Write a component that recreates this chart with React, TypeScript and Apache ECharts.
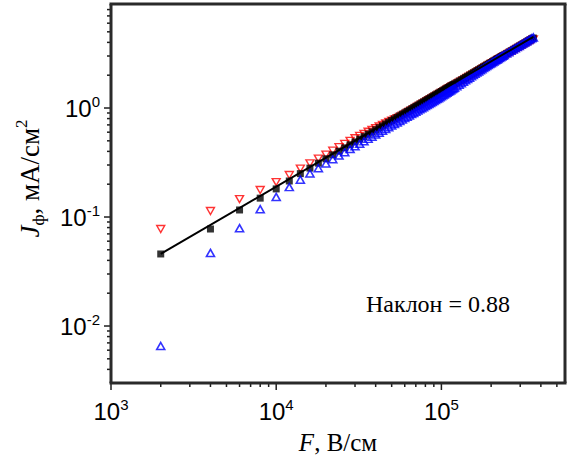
import React, { useEffect, useRef } from "react";
import * as echarts from "echarts";

// Field strength F, V/cm
const fieldF = [
  2000, 4000, 6000, 8000, 10000, 12000, 14000, 16000, 18000, 20000,
  22000, 24000, 26000, 28000, 30000, 32000, 34000, 36000, 38000, 40000,
  42000, 44000, 46000, 48000, 50000, 52000, 54000, 56000, 58000, 60000,
  62000, 64000, 66000, 68000, 70000, 72000, 74000, 76000, 78000, 80000,
  82000, 84000, 86000, 88000, 90000, 92000, 94000, 96000, 98000, 100000,
  102000, 104000, 106000, 108000, 110000, 112000, 114000, 116000, 118000, 120000,
  124000, 128000, 132000, 136000, 140000, 144000, 148000, 152000, 156000, 160000,
  164000, 168000, 172000, 176000, 180000, 184000, 188000, 192000, 196000, 200000,
  204000, 208000, 212000, 216000, 220000, 224000, 228000, 232000, 236000, 240000,
  248000, 256000, 264000, 272000, 280000, 288000, 296000, 304000, 312000, 320000,
  328000, 336000, 344000, 352000, 360000,
];

// Black filled squares
const jBlack = [
  0.0458, 0.0776, 0.116, 0.149, 0.181, 0.214,
  0.25, 0.281, 0.312, 0.342,
  0.372, 0.402, 0.431, 0.46, 0.489, 0.518, 0.546, 0.575, 0.603, 0.631,
  0.659, 0.686, 0.714, 0.741, 0.768, 0.795, 0.822, 0.849, 0.876, 0.902,
  0.929, 0.955, 0.981, 1.008, 1.034, 1.06, 1.086, 1.112, 1.137, 1.163,
  1.189, 1.214, 1.24, 1.265, 1.291, 1.316, 1.341, 1.366, 1.392, 1.417,
  1.441, 1.466, 1.491, 1.516, 1.541, 1.565, 1.59, 1.614, 1.639, 1.664,
  1.713, 1.762, 1.81, 1.858, 1.906, 1.954, 2.002, 2.05, 2.098, 2.145,
  2.193, 2.24, 2.287, 2.333, 2.38, 2.427, 2.474, 2.52, 2.566, 2.612,
  2.658, 2.704, 2.75, 2.796, 2.842, 2.887, 2.932, 2.978, 3.023, 3.068,
  3.158, 3.248, 3.338, 3.427, 3.516, 3.604, 3.692, 3.78, 3.868, 3.955,
  4.043, 4.13, 4.217, 4.303, 4.389,
];

// Red open down-triangles
const jRed = [
  0.0776, 0.1135, 0.146, 0.177, 0.209, 0.243,
  0.278, 0.311, 0.343, 0.374,
  0.406, 0.437, 0.468, 0.499, 0.528, 0.554, 0.58, 0.606, 0.63, 0.654,
  0.677, 0.699, 0.722, 0.744, 0.766, 0.787, 0.806, 0.828, 0.85, 0.875,
  0.901, 0.926, 0.952, 0.978, 1.003, 1.028, 1.053, 1.079, 1.103, 1.128,
  1.153, 1.178, 1.203, 1.227, 1.252, 1.277, 1.301, 1.325, 1.35, 1.374,
  1.398, 1.422, 1.446, 1.471, 1.495, 1.518, 1.542, 1.566, 1.59, 1.614,
  1.662, 1.709, 1.756, 1.802, 1.849, 1.895, 1.942, 1.989, 2.035, 2.081,
  2.127, 2.173, 2.218, 2.263, 2.309, 2.354, 2.4, 2.444, 2.489, 2.534,
  2.578, 2.623, 2.668, 2.712, 2.757, 2.8, 2.844, 2.889, 2.932, 2.976,
  3.063, 3.151, 3.238, 3.324, 3.411, 3.496, 3.581, 3.667, 3.752, 3.836,
  3.922, 4.006, 4.09, 4.174, 4.257,
];

// Blue open up-triangles
const jBlue = [
  0.00656, 0.0468, 0.079, 0.118, 0.153, 0.188,
  0.22, 0.251, 0.28, 0.31,
  0.339, 0.366, 0.393, 0.42, 0.445, 0.47, 0.495, 0.521, 0.545, 0.57,
  0.594, 0.619, 0.642, 0.666, 0.691, 0.713, 0.738, 0.762, 0.786, 0.81,
  0.832, 0.855, 0.879, 0.902, 0.926, 0.949, 0.972, 0.995, 1.018, 1.041,
  1.064, 1.09, 1.113, 1.136, 1.161, 1.184, 1.209, 1.232, 1.257, 1.283,
  1.306, 1.331, 1.357, 1.382, 1.407, 1.431, 1.457, 1.483, 1.507, 1.531,
  1.584, 1.636, 1.689, 1.742, 1.793, 1.849, 1.899, 1.953, 2.008, 2.06,
  2.113, 2.166, 2.22, 2.273, 2.325, 2.377, 2.428, 2.479, 2.529, 2.579,
  2.628, 2.676, 2.725, 2.773, 2.822, 2.871, 2.919, 2.971, 3.02, 3.068,
  3.162, 3.256, 3.35, 3.441, 3.532, 3.624, 3.715, 3.807, 3.899, 3.993,
  4.084, 4.176, 4.266, 4.355, 4.444,
];

// Power-law fit line (slope 0.88)
const fitF = [2000, 360000];
const fitJ = [0.0458, 4.5];

const X_MIN = 1000;
const X_MAX = 560000;
const Y_MIN = 0.003;
const Y_MAX = 9;
const xMajorTicks = [1e3, 1e4, 1e5];
const yMajorTicks = [1e-2, 1e-1, 1e0];
const slopeText = "Наклон = 0.88";

const AX = "#2a2a2a";
const SANS = "'Liberation Sans', Arial, sans-serif";
const SERIF = "'Liberation Serif', 'Times New Roman', serif";

function minorTicks(min: number, max: number) {
  const out: number[] = [];
  for (let e = Math.floor(Math.log10(min)); e <= Math.ceil(Math.log10(max)); e++) {
    for (let m = 2; m <= 9; m++) {
      const v = m * Math.pow(10, e);
      if (v > min * 1.0001 && v < max * 0.9999) out.push(v);
    }
  }
  return out;
}

const expLabel = (v: number) => {
  const e = Math.log10(v);
  const r = Math.round(e);
  if (Math.abs(e - r) > 1e-6) return "";
  return `{b|10}{s|${r}}`;
};

const labelRich = {
  b: { fontSize: 24, fontFamily: SANS, color: "#000", lineHeight: 28 },
  s: { fontSize: 15, fontFamily: SANS, color: "#000", verticalAlign: "top" as const, lineHeight: 15 },
};

function tickSeries(values: number[], axis: "x" | "y", len: number) {
  return {
    type: "custom" as const,
    silent: true,
    clip: false,
    z: 10,
    data: values.map((v) => (axis === "x" ? [v, Y_MIN] : [X_MIN, v])),
    renderItem: (_p: any, api: any) => {
      const p = api.coord([api.value(0), api.value(1)]);
      const shape =
        axis === "x"
          ? { x1: p[0], y1: p[1], x2: p[0], y2: p[1] + len }
          : { x1: p[0], y1: p[1], x2: p[0] - len, y2: p[1] };
      return { type: "line", shape, style: { stroke: "#1e1e1e", lineWidth: 1.5 } };
    },
  };
}

// plot frame: four sides drawn from the axis extents
const frameSeries = {
  type: "custom" as const,
  silent: true,
  clip: false,
  z: 11,
  data: [[X_MIN, Y_MIN, X_MAX, Y_MAX]],
  renderItem: (_p: any, api: any) => {
    const a = api.coord([api.value(0), api.value(1)]);
    const b = api.coord([api.value(2), api.value(3)]);
    const st = { stroke: AX, lineWidth: 3, fill: "none" };
    const h = 1.5;
    return {
      type: "group",
      children: [
        { type: "line", shape: { x1: a[0] - h, y1: a[1], x2: b[0] + h, y2: a[1] }, style: st },
        { type: "line", shape: { x1: a[0] - h, y1: b[1], x2: b[0] + h, y2: b[1] }, style: st },
        { type: "line", shape: { x1: a[0], y1: a[1], x2: a[0], y2: b[1] }, style: st },
        { type: "line", shape: { x1: b[0], y1: a[1], x2: b[0], y2: b[1] }, style: st },
      ],
    };
  },
};

const hiddenAxisParts = {
  axisLine: { show: false },
  axisTick: { show: false },
  splitLine: { show: false },
};

export default function App() {
  const ref = useRef<HTMLDivElement>(null);
  useEffect(() => {
    document.body.style.margin = "0";
    const chart = echarts.init(ref.current!, null, { renderer: "svg" });
    const option: any = {
      animation: false,
      grid: { left: 111, right: 7, top: 4, bottom: 78 },
      xAxis: {
        type: "log",
        logBase: 10,
        min: X_MIN,
        max: X_MAX,
        ...hiddenAxisParts,
        axisLabel: { formatter: expLabel, rich: labelRich, margin: 14, showMinLabel: true, showMaxLabel: false },
        name: "{i|F}{n|, В/см}",
        nameLocation: "middle",
        nameGap: 47,
        nameTextStyle: {
          fontFamily: SERIF,
          fontSize: 25,
          color: "#000",
          rich: {
            i: { fontFamily: SERIF, fontSize: 25, fontStyle: "italic", color: "#000" },
            n: { fontFamily: SERIF, fontSize: 25, color: "#000" },
          },
        },
      },
      yAxis: {
        type: "log",
        logBase: 10,
        min: Y_MIN,
        max: Y_MAX,
        ...hiddenAxisParts,
        axisLabel: { formatter: expLabel, rich: labelRich, margin: 11, showMinLabel: false, showMaxLabel: false },
        name: "{i|J}{sub|ф}{n|, мА/см}{sup|2}",
        nameLocation: "middle",
        nameRotate: 90,
        nameGap: 64,
        nameTextStyle: {
          fontFamily: SERIF,
          fontSize: 27,
          color: "#000",
          padding: [0, 0, 0, 30],
          rich: {
            i: { fontFamily: SERIF, fontSize: 27, fontStyle: "italic", color: "#000", lineHeight: 34 },
            sub: { fontFamily: SERIF, fontSize: 17, color: "#000", verticalAlign: "bottom", lineHeight: 17 },
            n: { fontFamily: SERIF, fontSize: 27, color: "#000", lineHeight: 34 },
            sup: { fontFamily: SERIF, fontSize: 17, color: "#000", verticalAlign: "top", lineHeight: 17 },
          },
        },
      },
      graphic: [
        {
          type: "text",
          left: 366,
          top: 292,
          silent: true,
          style: { text: slopeText, fontFamily: SERIF, fontSize: 24, fill: "#000" },
        },
      ],
      series: [
        {
          type: "scatter",
          silent: true,
          symbol: "triangle",
          symbolRotate: 180,
          symbolSize: [8, 7],
          itemStyle: { color: "rgba(0,0,0,0)", borderColor: "#ff0000", borderWidth: 1.4 },
          data: fieldF.map((f, i) => [f, jRed[i]]),
          z: 2,
        },
        {
          type: "scatter",
          silent: true,
          symbol: "rect",
          symbolSize: 7,
          itemStyle: { color: "#000" },
          data: fieldF.map((f, i) => [f, jBlack[i]]),
          z: 3,
        },
        {
          type: "scatter",
          silent: true,
          symbol: "triangle",
          symbolSize: [8, 7],
          itemStyle: { color: "rgba(0,0,0,0)", borderColor: "#0000ff", borderWidth: 1.6 },
          data: fieldF.map((f, i) => [f, jBlue[i]]),
          z: 4,
        },
        {
          type: "line",
          silent: true,
          symbol: "none",
          showSymbol: false,
          lineStyle: { color: "#000", width: 2 },
          data: fitF.map((f, i) => [f, fitJ[i]]),
          z: 6,
        },
        tickSeries(xMajorTicks, "x", 7),
        tickSeries(minorTicks(X_MIN, X_MAX), "x", 4),
        tickSeries(yMajorTicks, "y", 7),
        tickSeries(minorTicks(Y_MIN, Y_MAX), "y", 4),
        frameSeries,
      ],
    };
    chart.setOption(option);
    return () => chart.dispose();
  }, []);
  return <div ref={ref} style={{ width: 572, height: 461 }} />;
}
